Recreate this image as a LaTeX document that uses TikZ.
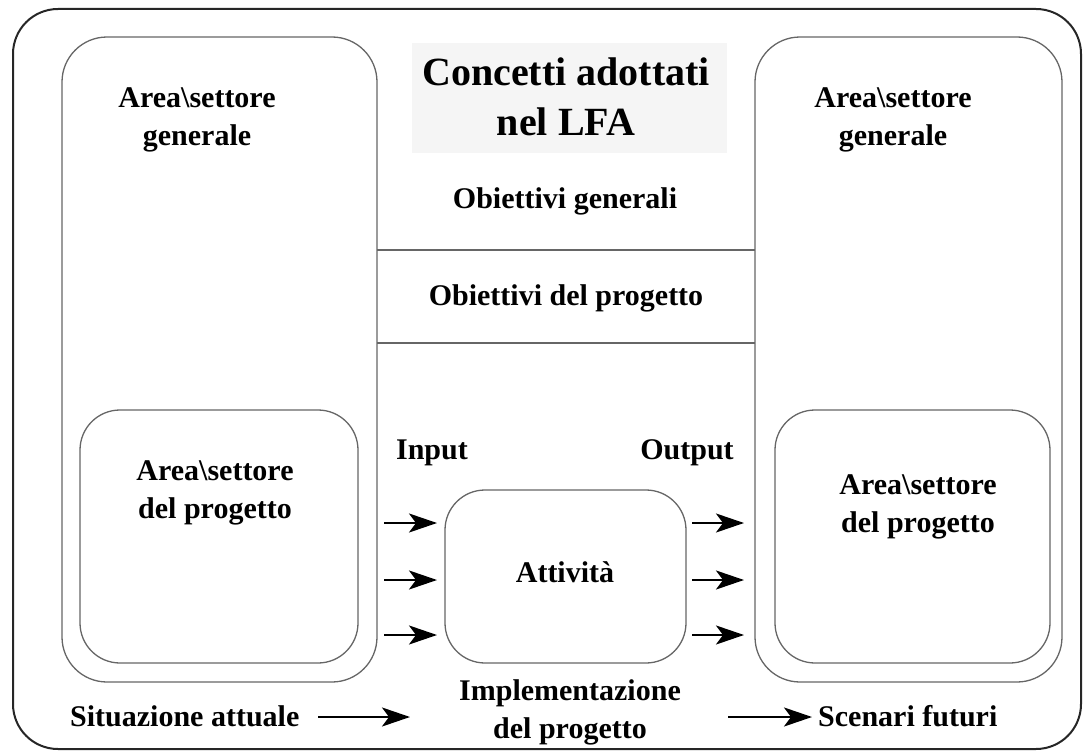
\documentclass[tikz,border=0pt]{standalone}
\usepackage{fontspec}
\setmainfont{Liberation Serif}
\usetikzlibrary{arrows.meta}
\begin{document}
\begin{tikzpicture}[x=1pt,y=-1pt,
  lbl/.style={font=\fontsize{30}{38}\selectfont\bfseries, align=center, inner sep=0pt},
  ttl/.style={font=\fontsize{40}{50}\selectfont\bfseries, align=center, inner sep=0pt},
  box/.style={draw=black!60, line width=1.3pt, inner sep=0pt, outer sep=0pt},
  arr/.style={line width=2.5pt, -{Stealth[length=28pt,width=19pt,inset=7pt]}}]
\useasboundingbox (0,0) rectangle (1090,752);
% outer frame
\node[draw=black!85, line width=2pt, rounded corners=45pt, minimum width=1068pt, minimum height=740pt, inner sep=0pt] (frame) at (547,379) {};
% tall side boxes
\node[box, rounded corners=45pt, minimum width=315pt, minimum height=645pt] (lt) at (219.5,359.5) {};
\node[box, rounded corners=45pt, minimum width=307pt, minimum height=645pt] (rt) at (908.5,359.5) {};
% inner boxes
\node[box, rounded corners=40pt, minimum width=278pt, minimum height=253pt] (li) at (219,536.5) {};
\node[box, rounded corners=40pt, minimum width=275pt, minimum height=253pt] (ri) at (912.5,536.5) {};
\node[box, rounded corners=40pt, minimum width=241pt, minimum height=173pt] (act) at (565.5,576.5) {};
% title background
\node[fill=black!4, minimum width=315pt, minimum height=110pt, inner sep=0pt] (tbg) at (569.5,98) {};
\node[ttl] (title) at (566,97) {Concetti adottati\\nel LFA};
% horizontal lines
\coordinate (h1) at (0,250);
\coordinate (h2) at (0,343);
\draw[draw=black!60, line width=1.3pt] (lt.east |- h1) -- (rt.west |- h1);
\draw[draw=black!60, line width=1.3pt] (lt.east |- h2) -- (rt.west |- h2);
% texts
\node[lbl] (ltx) at (197,120) {Area\textbackslash settore\\generale};
\node[lbl] (rtx) at (893,120) {Area\textbackslash settore\\generale};
\node[lbl] (og) at (565,201) {Obiettivi generali};
\node[lbl] (op) at (566,298) {Obiettivi del progetto};
\node[lbl] (lix) at (215,493) {Area\textbackslash settore\\del progetto};
\node[lbl] (rix) at (918,507) {Area\textbackslash settore\\del progetto};
\node[lbl] (inp) at (432,453) {Input};
\node[lbl] (outp) at (687,453) {Output};
\node[lbl] (actx) at (565,572) {Attività};
\node[lbl, anchor=west] (sit) at (70,716) {Situazione attuale};
\node[lbl] (impl) at (570,712) {Implementazione\\del progetto};
\node[lbl, anchor=west] (scen) at (818,716) {Scenari futuri};
% arrows
\foreach \i/\yy in {1/523,2/580,3/635}{
  \coordinate (ia\i) at (384,\yy);
  \coordinate (ib\i) at (437,\yy);
  \coordinate (oa\i) at (692,\yy);
  \coordinate (ob\i) at (744,\yy);
  \draw[arr] (ia\i) -- (ib\i);
  \draw[arr] (oa\i) -- (ob\i);
}
\coordinate (sa) at (318,717);
\coordinate (sb) at (410,717);
\draw[arr] (sa) -- (sb);
\coordinate (fa) at (728,717);
\coordinate (fb) at (812,717);
\draw[arr] (fa) -- (fb);
\end{tikzpicture}
\end{document}
